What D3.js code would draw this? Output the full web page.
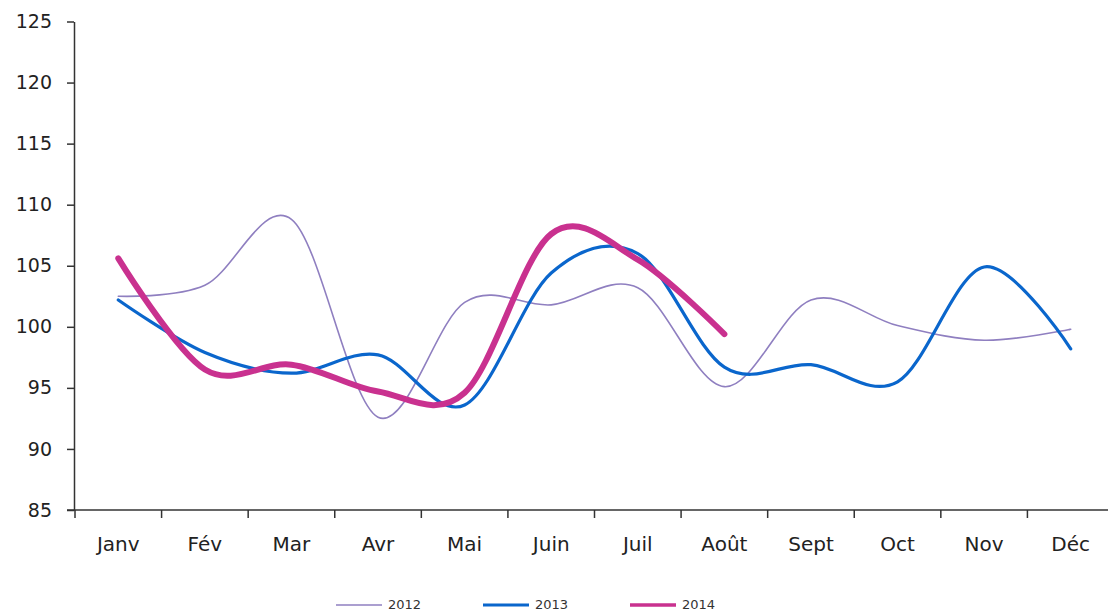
<!DOCTYPE html>
<html>
<head>
<meta charset="utf-8">
<script src="https://cdn.jsdelivr.net/npm/d3@7"></script>
<style>
  html, body { margin: 0; padding: 0; background: #fff; }
  svg { display: block; }
  svg text { font-family: "DejaVu Sans", Verdana, sans-serif; }
</style>
</head>
<body>
<svg id="chart" width="1108" height="612"></svg>
<script>
const months = ["Janv", "Fév", "Mar", "Avr", "Mai", "Juin", "Juil", "Août", "Sept", "Oct", "Nov", "Déc"];
const yTicks = [85, 90, 95, 100, 105, 110, 115, 120, 125];
const values2012 = [102.5, 103.4, 108.8, 92.6, 102.0, 101.8, 103.2, 95.1, 102.2, 100.1, 98.9, 99.8];
const values2013 = [102.2, 97.9, 96.2, 97.7, 93.6, 104.4, 106.0, 96.7, 96.9, 95.5, 104.9, 98.2];
const values2014 = [105.6, 96.5, 96.9, 94.7, 94.6, 107.6, 105.5, 99.4];
const seriesNames = ["2012", "2013", "2014"];

const series = [
  { name: seriesNames[0], values: values2012, color: "#8f7fc0", width: 1.6 },
  { name: seriesNames[1], values: values2013, color: "#0a66cc", width: 3.2 },
  { name: seriesNames[2], values: values2014, color: "#c9318f", width: 6 }
];

const FONT = "'DejaVu Sans', Verdana, sans-serif";
const svg = d3.select("#chart");
const x = d3.scaleBand().domain(months).range([75, 1114]);
const y = d3.scaleLinear().domain([85, 125]).range([510, 21.5]);

// Y axis
const yAxis = svg.append("g").attr("transform", "translate(74,0)")
  .call(d3.axisLeft(y).tickValues(yTicks).tickSize(7).tickPadding(15).tickSizeOuter(0));
yAxis.attr("font-family", FONT);
yAxis.select(".domain").attr("stroke", "#333").attr("stroke-width", 1.5);
yAxis.selectAll(".tick line").attr("stroke", "#333").attr("stroke-width", 1.5);
yAxis.selectAll("text").attr("font-size", 19).attr("fill", "#222").attr("font-family", FONT);

// X axis
const xAxis = svg.append("g").attr("transform", "translate(0,510)")
  .call(d3.axisBottom(x).tickSize(0).tickPadding(27).tickSizeOuter(0));
xAxis.attr("font-family", FONT);
xAxis.select(".domain").attr("stroke", "#333").attr("stroke-width", 1.5)
  .attr("d", "M67,0H1114");
xAxis.selectAll("text").attr("font-size", 20).attr("fill", "#222").attr("font-family", FONT);
xAxis.selectAll(".bound").data(months.map(m => x(m)).concat([x.range()[1]]))
  .join("line").attr("class", "bound")
  .attr("x1", d => d).attr("x2", d => d).attr("y1", 0).attr("y2", 8)
  .attr("stroke", "#333").attr("stroke-width", 1.5);

// Lines
const line = d3.line()
  .x((d, i) => x(months[i]) + x.bandwidth() / 2)
  .y(d => y(d))
  .curve(d3.curveCardinal.tension(0));

svg.append("g").selectAll("path.series").data(series).join("path")
  .attr("class", "series")
  .attr("d", d => line(d.values))
  .attr("fill", "none")
  .attr("stroke", d => d.color)
  .attr("stroke-width", d => d.width)
  .attr("stroke-linecap", "round")
  .attr("stroke-linejoin", "round");

// Legend
const legendX = [336, 483, 630];
const legend = svg.append("g").selectAll("g").data(series).join("g")
  .attr("transform", (d, i) => `translate(${legendX[i]},605)`);
legend.append("line").attr("x1", 0).attr("x2", 46).attr("y1", 0).attr("y2", 0)
  .attr("stroke", d => d.color).attr("stroke-width", d => Math.min(d.width, 3.5));
legend.append("text").attr("x", 52).attr("y", 4).attr("font-size", 13).attr("fill", "#333")
  .attr("font-family", FONT)
  .text(d => d.name);
</script>
</body>
</html>
